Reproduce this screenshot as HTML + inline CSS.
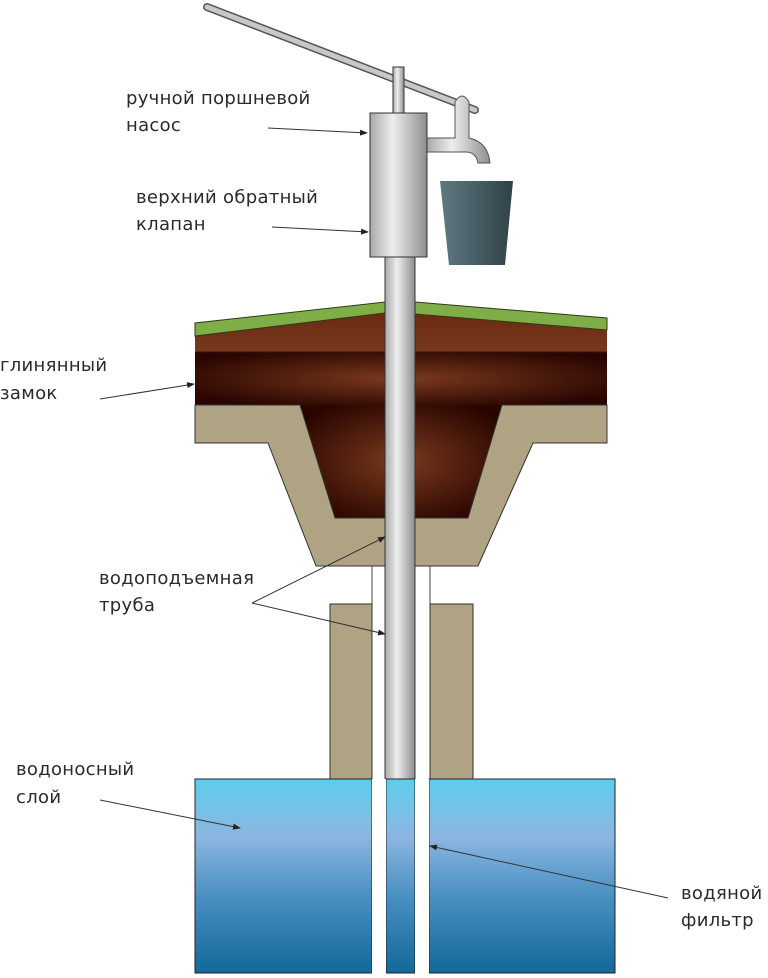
<!DOCTYPE html>
<html><head><meta charset="utf-8"><style>
html,body{margin:0;padding:0;background:#fff;}
svg{display:block;}
text{font-family:"DejaVu Sans","Liberation Sans",sans-serif;font-size:18px;letter-spacing:0.3px;fill:#2a2a2a;}
</style></head><body>
<svg width="768" height="978" viewBox="0 0 768 978" xmlns="http://www.w3.org/2000/svg">
<defs>
<linearGradient id="metal" x1="0" x2="1" y1="0" y2="0">
<stop offset="0" stop-color="#a9a9ab"/><stop offset="0.4" stop-color="#eeeeef"/><stop offset="1" stop-color="#8d8d90"/>
</linearGradient>
<linearGradient id="water" x1="0" x2="0" y1="0" y2="1">
<stop offset="0" stop-color="#5dcdee"/><stop offset="0.3" stop-color="#8cb6e0"/><stop offset="0.6" stop-color="#4a90c2"/><stop offset="1" stop-color="#13689a"/>
</linearGradient>
<linearGradient id="bucket" x1="0" x2="1"><stop offset="0" stop-color="#5f7a83"/><stop offset="1" stop-color="#2f4247"/></linearGradient>
<radialGradient id="clay" cx="0.5" cy="0.5" r="0.6"><stop offset="0" stop-color="#7a3a1e"/><stop offset="1" stop-color="#2a0500"/></radialGradient>
<linearGradient id="soil" x1="0" x2="0" y1="0" y2="1"><stop offset="0" stop-color="#6a2a12"/><stop offset="1" stop-color="#8a4a2a"/></linearGradient>
<marker id="ar" markerWidth="8" markerHeight="6" refX="7" refY="3" orient="auto"><path d="M0,0 L8,3 L0,6 z" fill="#222"/></marker>
</defs>

<line x1="207" y1="7" x2="475" y2="110" stroke="#555" stroke-width="8" stroke-linecap="round"/>
<line x1="207" y1="7" x2="475" y2="110" stroke="#c8c8ca" stroke-width="5" stroke-linecap="round"/>
<rect x="393" y="67" width="11" height="47" fill="url(#metal)" stroke="#333"/>
<path d="M427,138 L455,138 L455,102 Q462,90 469,102 L469,138 Q488,142 490,163 L478,163 Q476,152 466,152 L427,152 Z" fill="url(#metal)" stroke="#555"/>
<path d="M440,181 L513,181 L505,265 L449,265 Z" fill="url(#bucket)"/>

<path d="M195,405 L195,330 L385,310 L415,310 L607,326 L607,405 Z" fill="url(#soil)"/>
<rect x="195" y="352" width="412" height="53" fill="url(#clay)"/>
<path d="M195,336 L195,323 L385,302 L415,302 L607,318 L607,330 L415,314 L385,313 Z" fill="#7fae48" stroke="#2b3a18"/>
<path d="M300,405 L502,405 L468,518 L333,518 Z" fill="url(#clay)"/>
<line x1="195" y1="352" x2="607" y2="352" stroke="#3a1506" stroke-width="1"/>
<path d="M195,405 L300,405 L335,518 L468,518 L502,405 L607,405 L607,443 L533,443 L478,566 L316,566 L268,443 L195,443 Z" fill="#b0a384" stroke="#333"/>
<line x1="372" y1="566" x2="372" y2="779" stroke="#444"/>
<line x1="430" y1="566" x2="430" y2="779" stroke="#444"/>
<rect x="330" y="604" width="42" height="175" fill="#b0a384" stroke="#333"/>
<rect x="430" y="604" width="43" height="175" fill="#b0a384" stroke="#333"/>
<rect x="385" y="250" width="30" height="529" fill="url(#metal)" stroke="#333"/>
<rect x="370" y="113" width="57" height="144" fill="url(#metal)" stroke="#333"/>
<rect x="195" y="779" width="177" height="194" fill="url(#water)" stroke="#222"/>
<rect x="429" y="779" width="186" height="194" fill="url(#water)" stroke="#222"/>
<rect x="386" y="779" width="29" height="194" fill="url(#water)" stroke="#222"/>
<rect x="372" y="779" width="14" height="199" fill="#fff"/>
<rect x="415" y="779" width="14" height="199" fill="#fff"/>

<text x="126" y="104">ручной поршневой</text>
<text x="126" y="131">насос</text>
<line x1="268" y1="128" x2="367" y2="133" stroke="#333" marker-end="url(#ar)"/>
<text x="136" y="203">верхний обратный</text>
<text x="136" y="230">клапан</text>
<line x1="272" y1="227" x2="368" y2="232" stroke="#333" marker-end="url(#ar)"/>
<text x="0" y="371">глинянный</text>
<text x="0" y="399">замок</text>
<line x1="100" y1="399" x2="194" y2="384" stroke="#333" marker-end="url(#ar)"/>
<text x="99" y="584">водоподъемная</text>
<text x="99" y="611">труба</text>
<line x1="252" y1="603" x2="385" y2="537" stroke="#333" marker-end="url(#ar)"/>
<line x1="252" y1="603" x2="385" y2="634" stroke="#333" marker-end="url(#ar)"/>
<text x="16" y="775">водоносный</text>
<text x="16" y="803">слой</text>
<line x1="100" y1="800" x2="240" y2="828" stroke="#333" marker-end="url(#ar)"/>
<text x="681" y="899">водяной</text>
<text x="681" y="926">фильтр</text>
<line x1="668" y1="898" x2="430" y2="846" stroke="#333" marker-end="url(#ar)"/>
</svg>
</body></html>
